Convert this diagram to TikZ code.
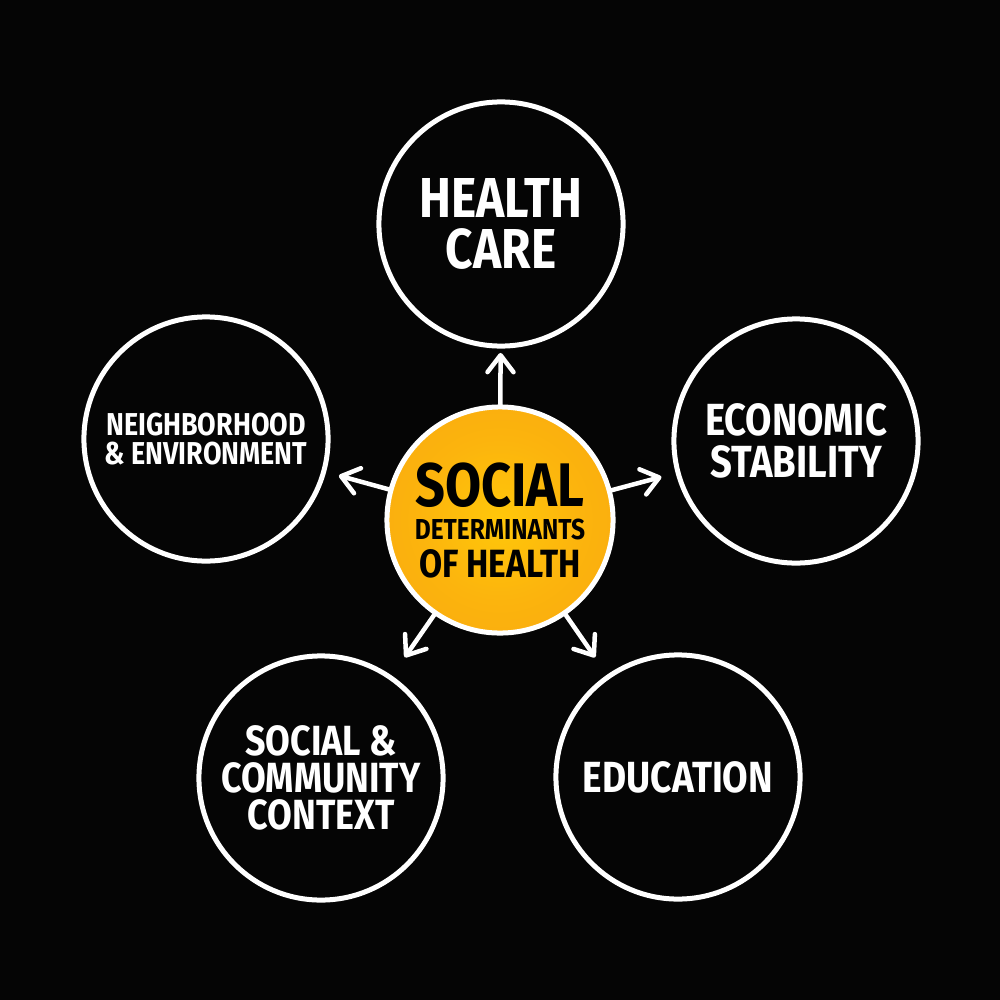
\documentclass[tikz,border=0pt]{standalone}
\usepackage{fontspec}
\setmainfont{Fira Sans}[FakeStretch=0.85]
\usetikzlibrary{arrows.meta,calc}
\definecolor{bgblack}{HTML}{050505}
\definecolor{glowin}{HTML}{FFC70A}
\definecolor{glowmid}{HTML}{FCB40D}
\definecolor{glowout}{HTML}{F5A011}
\pgfdeclareradialshading{sdohglow}{\pgfpoint{0bp}{0bp}}
{color(0bp)=(glowin); color(18bp)=(glowmid); color(50bp)=(glowout)}
\newcommand\setsz[2]{\fontsize{#1}{#2}\selectfont}
\tikzset{
topic/.style={circle, draw=white, line width=0.05cm, minimum size=2.44cm, inner sep=0pt, text=white, align=center},
hub/.style={circle, draw=white, line width=0.05cm, minimum size=2.26cm, inner sep=0pt, shading=sdohglow, text=black, align=center},
spoke/.style={draw=white, line width=0.045cm, line cap=round, -{Straight Barb[length=0.17cm, width=0.26cm, line cap=round, line join=round]}}
}

\begin{document}
\begin{tikzpicture}[x=0.01cm, y=-0.01cm, line join=round]
\fill[bgblack] (0,0) rectangle (1000,1000);
% centre
\node[hub, font=\bfseries\setsz{8.2}{9.6}] (sdoh) at (500,520)
  {{\setsz{17.5}{9.6}SOCIAL}\\ DETERMINANTS\\[1pt] {\setsz{11.2}{9.6}OF HEALTH}};
% outer circles
\node[topic, font=\bfseries\setsz{16}{14.5}] (hc)  at (501,224) {HEALTH\\CARE};
\node[topic, font=\bfseries\setsz{12.8}{12}] (es)  at (796,441) {ECONOMIC\\STABILITY};
\node[topic, font=\bfseries\setsz{12.4}{12}] (edu) at (678,777) {EDUCATION};
\node[topic, font=\bfseries\setsz{12}{10.5}] (scc) at (321,778) {SOCIAL \&\\COMMUNITY\\CONTEXT};
\node[topic, font=\bfseries\setsz{9}{8}]     (ne)  at (206,439) {NEIGHBORHOOD\\\& ENVIRONMENT};
% arrows
\foreach \topic in {hc,es,edu,scc,ne}
{
\coordinate (tip-\topic) at ($(sdoh)!1.67cm!(\topic)$);
\draw[spoke] (sdoh) -- (tip-\topic);
}
\end{tikzpicture}
\end{document}
